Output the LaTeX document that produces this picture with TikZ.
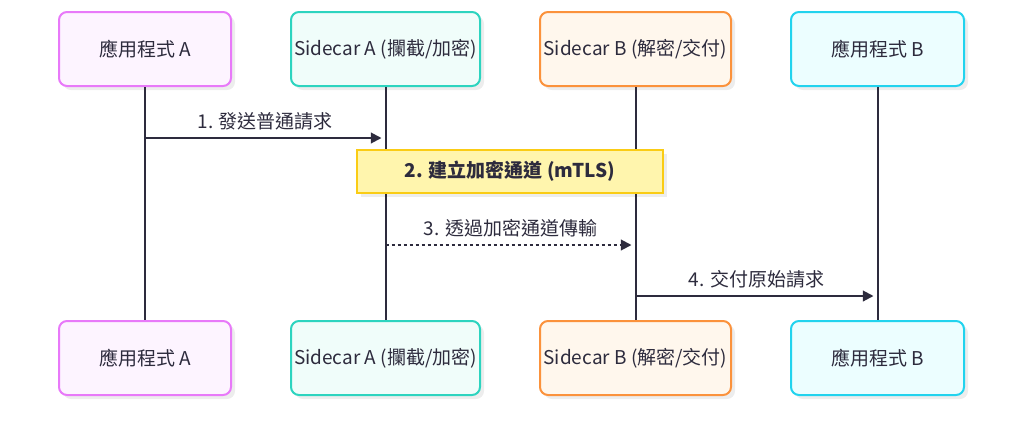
\documentclass[tikz,border=0pt]{standalone}
\usepackage{fontspec}
\setmainfont{Noto Sans CJK TC}
\usetikzlibrary{arrows.meta,positioning,shadows}
\definecolor{ink}{HTML}{2D2B3D}
\definecolor{appAline}{HTML}{E879F9}
\definecolor{appAfill}{HTML}{FDF4FF}
\definecolor{scAline}{HTML}{2DD4BF}
\definecolor{scAfill}{HTML}{F0FDFA}
\definecolor{scBline}{HTML}{FB923C}
\definecolor{scBfill}{HTML}{FFF7ED}
\definecolor{appBline}{HTML}{22D3EE}
\definecolor{appBfill}{HTML}{ECFEFF}
\definecolor{noteline}{HTML}{FACC15}
\definecolor{notefill}{HTML}{FFF5AD}

\begin{document}
\begin{tikzpicture}[
  x=0.75pt, y=-0.75pt,
  node distance=43.5pt,
  actor/.style={rectangle, rounded corners=6pt, line width=1.5pt,
                minimum height=55.5pt, inner sep=0pt, text=ink,
                font=\fontsize{14.25}{17}\selectfont,
                drop shadow={shadow xshift=3pt, shadow yshift=-3pt,
                             fill=black, opacity=0.07}},
  appa/.style={actor, draw=appAline, fill=appAfill, minimum width=129pt},
  sca/.style={actor, draw=scAline, fill=scAfill, minimum width=141.75pt},
  scb/.style={actor, draw=scBline, fill=scBfill, minimum width=143.25pt},
  appb/.style={actor, draw=appBline, fill=appBfill, minimum width=129.75pt},
  note/.style={rectangle, draw=noteline, fill=notefill, line width=1.5pt,
               minimum width=229.5pt, minimum height=32.25pt, text=ink,
               font=\fontsize{14.25}{17}\selectfont\bfseries,
               drop shadow={shadow xshift=3pt, shadow yshift=-3pt,
                            fill=black, opacity=0.07}},
  life/.style={draw=ink, line width=1.5pt},
  msg/.style={-{Triangle[length=8pt,width=8pt]}, line width=1.5pt, draw=ink,
              shorten >=3pt},
  lbl/.style={above=5pt, inner sep=0pt, text=ink,
              font=\fontsize{14.25}{17}\selectfont}
]
\useasboundingbox (0,0) rectangle (1024,444);

\node[appa] (appA) at (145,49) {應用程式 A};
\node[sca, right=of appA] (scA) {Sidecar A (攔截/加密)};
\node[scb, right=of scA] (scB) {Sidecar B (解密/交付)};
\node[appb, right=of scB] (appB) {應用程式 B};

\node[appa, below=174.75pt of appA] (appA2) {應用程式 A};
\node[sca, below=174.75pt of scA] (scA2) {Sidecar A (攔截/加密)};
\node[scb, below=174.75pt of scB] (scB2) {Sidecar B (解密/交付)};
\node[appb, below=174.75pt of appB] (appB2) {應用程式 B};

\draw[life] (appA) -- (appA2);
\draw[life] (scA) -- (scA2);
\draw[life] (scB) -- (scB2);
\draw[life] (appB) -- (appB2);

\coordinate (m1a) at (appA |- 0,138);
\coordinate (m1b) at (scA |- 0,138);
\draw[msg] (m1a) -- (m1b) node[lbl, midway] {1. 發送普通請求};

\node[note] (tls) at (510,171.5) {2. 建立加密通道 (mTLS)};

\coordinate (m3a) at (scA |- 0,245);
\coordinate (m3b) at (scB |- 0,245);
\draw[msg, dash pattern=on 2.25pt off 2.25pt] (m3a) -- (m3b)
  node[lbl, midway] {3. 透過加密通道傳輸};

\coordinate (m4a) at (scB |- 0,296);
\coordinate (m4b) at (appB |- 0,296);
\draw[msg] (m4a) -- (m4b) node[lbl, midway] {4. 交付原始請求};
\end{tikzpicture}
\end{document}
